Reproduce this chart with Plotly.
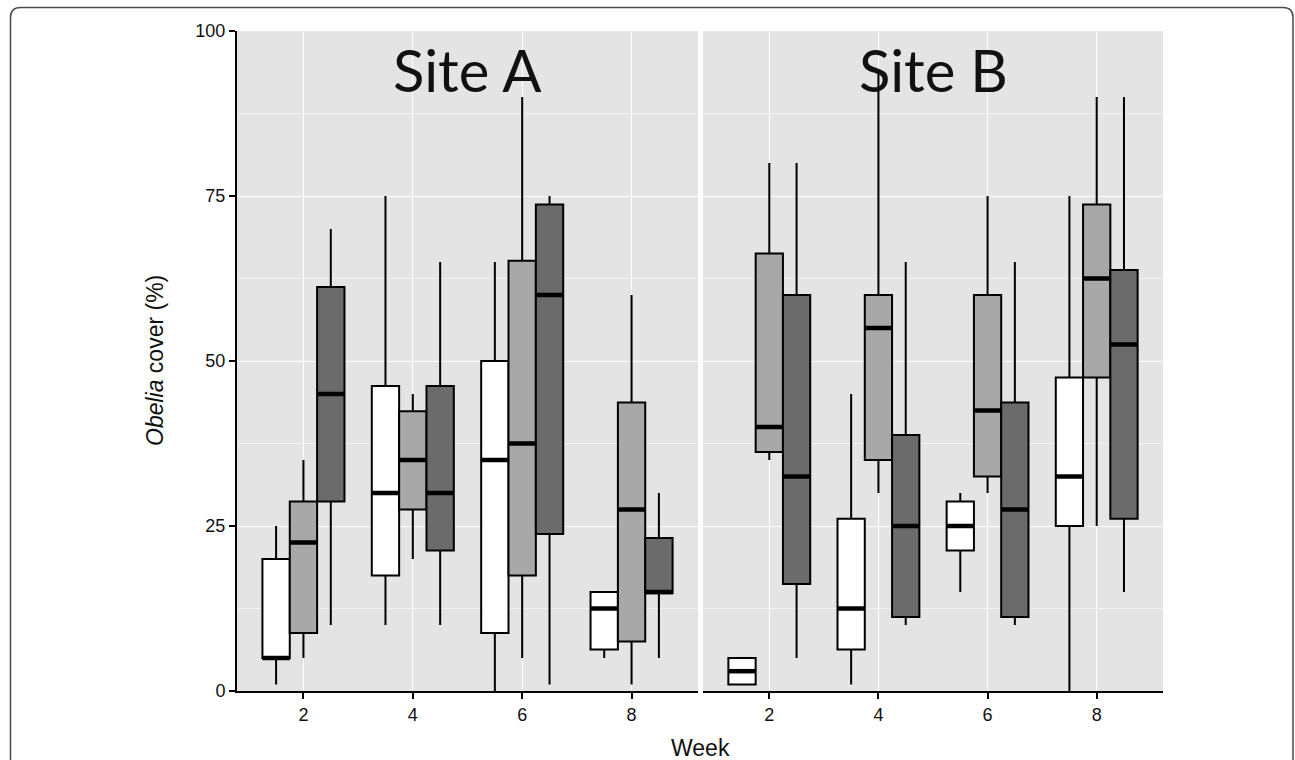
import plotly.graph_objects as go

# ---------------- data ----------------
weeks = [2, 4, 6, 8]
sites = ["Site A", "Site B"]
group_fills = ["#FFFFFF", "#A8A8A8", "#6B6B6B"]

# Site A  (white, light grey, dark grey boxes)
a_white_low = [1, 10, 0, 5]
a_white_q1 = [5, 17.5, 8.8, 6.3]
a_white_med = [5, 30, 35, 12.5]
a_white_q3 = [20, 46.2, 50, 15]
a_white_up = [25, 75, 65, 15]

a_light_low = [5, 20, 5, 1]
a_light_q1 = [8.8, 27.5, 17.5, 7.5]
a_light_med = [22.5, 35, 37.5, 27.5]
a_light_q3 = [28.7, 42.4, 65.2, 43.7]
a_light_up = [35, 45, 90, 60]

a_dark_low = [10, 10, 1, 5]
a_dark_q1 = [28.7, 21.3, 23.8, 14.8]
a_dark_med = [45, 30, 60, 15]
a_dark_q3 = [61.2, 46.2, 73.7, 23.2]
a_dark_up = [70, 65, 75, 30]

# Site B
b_white_low = [1, 1, 15, 0]
b_white_q1 = [1, 6.3, 21.3, 25]
b_white_med = [3, 12.5, 25, 32.5]
b_white_q3 = [5, 26.1, 28.7, 47.5]
b_white_up = [5, 45, 30, 75]

b_light_low = [35, 30, 30, 25]
b_light_q1 = [36.2, 35, 32.5, 47.5]
b_light_med = [40, 55, 42.5, 62.5]
b_light_q3 = [66.3, 60, 60, 73.7]
b_light_up = [80, 94, 75, 90]

b_dark_low = [5, 10, 10, 15]
b_dark_q1 = [16.2, 11.2, 11.2, 26.1]
b_dark_med = [32.5, 25, 27.5, 52.5]
b_dark_q3 = [60, 38.8, 43.7, 63.8]
b_dark_up = [80, 65, 65, 90]

y_ticks = [0, 25, 50, 75, 100]
x_ticks = [2, 4, 6, 8]

site_data = {
    "Site A": [
        (a_white_low, a_white_q1, a_white_med, a_white_q3, a_white_up),
        (a_light_low, a_light_q1, a_light_med, a_light_q3, a_light_up),
        (a_dark_low, a_dark_q1, a_dark_med, a_dark_q3, a_dark_up),
    ],
    "Site B": [
        (b_white_low, b_white_q1, b_white_med, b_white_q3, b_white_up),
        (b_light_low, b_light_q1, b_light_med, b_light_q3, b_light_up),
        (b_dark_low, b_dark_q1, b_dark_med, b_dark_q3, b_dark_up),
    ],
}

# ---------------- layout geometry ----------------
W, H = 1295, 760
ML, MR, MT, MB = 237, 132, 31, 69
PW = W - ML - MR
PH = H - MT - MB
BOXGAP = 0.25
N_GROUPS = 3
box_w = 2 * (1 - BOXGAP) / N_GROUPS  # width of one box in data units

fig = go.Figure()

axis_names = [("x", "y"), ("x2", "y2")]
for s_i, site in enumerate(sites):
    xa, ya = axis_names[s_i]
    for g_i, (low, q1, med, q3, up) in enumerate(site_data[site]):
        fig.add_trace(go.Box(
            x=weeks, lowerfence=low, q1=q1, median=med, q3=q3, upperfence=up,
            fillcolor=group_fills[g_i], line=dict(color="black", width=2),
            whiskerwidth=0, boxpoints=False, showlegend=False,
            hoverinfo="skip", xaxis=xa, yaxis=ya, offsetgroup=str(g_i),
        ))
    # thick median bars (ggplot style)
    for g_i, (low, q1, med, q3, up) in enumerate(site_data[site]):
        off = (g_i - (N_GROUPS - 1) / 2) * box_w
        mx, my = [], []
        for w, m in zip(weeks, med):
            mx += [w + off - box_w / 2, w + off + box_w / 2, None]
            my += [m, m, None]
        fig.add_trace(go.Scatter(
            x=mx, y=my, mode="lines", line=dict(color="black", width=4.5),
            showlegend=False, hoverinfo="skip", xaxis=xa, yaxis=ya,
        ))

tick_font = dict(family="Liberation Sans, Arial", size=18, color="#111111")
x_common = dict(
    range=[0.785, 9.215], tickvals=x_ticks, ticktext=[str(t) for t in x_ticks],
    ticks="outside", ticklen=6, tickwidth=1.5, tickcolor="black",
    showline=True, linecolor="black", linewidth=2,
    showgrid=True, gridcolor="white", gridwidth=1.2, zeroline=False,
    tickfont=tick_font,
)
y_common = dict(
    range=[0, 100], tickvals=y_ticks, showgrid=True, gridcolor="white",
    gridwidth=1.2, zeroline=False,
    minor=dict(dtick=12.5, tick0=0, showgrid=True, gridcolor="#F3F3F3", gridwidth=0.8),
)

split_a = (698 - ML) / PW
split_b = (703 - ML) / PW

fig.update_layout(
    width=W, height=H,
    margin=dict(l=ML, r=MR, t=MT, b=MB),
    paper_bgcolor="white", plot_bgcolor="#E4E4E4",
    boxmode="group", boxgap=BOXGAP, boxgroupgap=0,
    xaxis=dict(domain=[0, split_a], anchor="y", **x_common),
    xaxis2=dict(domain=[split_b, 1], anchor="y2", **x_common),
    yaxis=dict(domain=[0, 1], anchor="x", ticks="outside", ticklen=6, tickwidth=1.5,
               tickcolor="black", showline=True, linecolor="black", linewidth=2,
               tickfont=tick_font, **y_common),
    yaxis2=dict(domain=[0, 1], anchor="x2", showticklabels=False, showline=False,
                ticks="", **y_common),
    showlegend=False,
)

# facet titles inside panels
for s_i, site in enumerate(sites):
    xref = "x domain" if s_i == 0 else "x2 domain"
    fig.add_annotation(
        text=site, xref=xref, yref="paper", x=0.5, y=(H - MB - 69) / PH,
        xanchor="center", yanchor="middle", showarrow=False,
        font=dict(family="Lato, Open Sans", size=58, color="#111111"),
    )

# axis titles
fig.add_annotation(
    text="Week", xref="paper", yref="paper", x=0.5, y=(H - MB - 748) / PH,
    xanchor="center", yanchor="middle", showarrow=False,
    font=dict(family="Liberation Sans, Arial", size=23, color="#111111"),
)
fig.add_annotation(
    text="<i>Obelia</i> cover (%)", xref="paper", yref="paper",
    x=(155 - ML) / PW, y=0.5, textangle=-90,
    xanchor="center", yanchor="middle", showarrow=False,
    font=dict(family="Liberation Sans, Arial", size=23, color="#111111"),
)

# publication frame (rounded top corners)
def px_x(px):
    return (px - ML) / PW

def px_y(py):
    return (H - MB - py) / PH

L, R, T, B, rad = 10.5, 1293, 7.5, 775, 10
path = (
    f"M {px_x(L)},{px_y(B)} L {px_x(L)},{px_y(T + rad)} "
    f"Q {px_x(L)},{px_y(T)} {px_x(L + rad)},{px_y(T)} "
    f"L {px_x(R - rad)},{px_y(T)} "
    f"Q {px_x(R)},{px_y(T)} {px_x(R)},{px_y(T + rad)} "
    f"L {px_x(R)},{px_y(B)}"
)
fig.add_shape(type="path", path=path, xref="paper", yref="paper",
              line=dict(color="#4A4A4A", width=1.5), layer="above")

fig.write_html(
    "out.html",
    config={"displayModeBar": False},
    post_script="document.body.style.margin='0';document.body.style.overflow='hidden';",
)
